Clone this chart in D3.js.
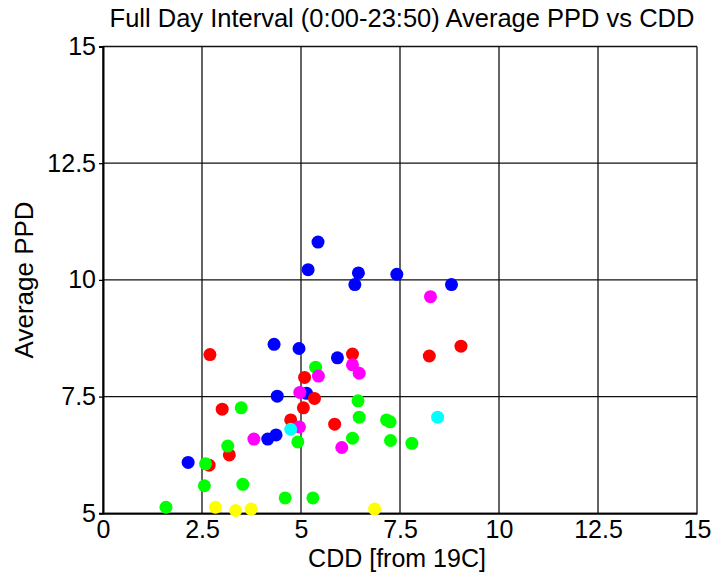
<!DOCTYPE html>
<html><head><meta charset="utf-8">
<script src="https://cdn.jsdelivr.net/npm/d3@7/dist/d3.min.js"></script>
<style>body{margin:0;background:#fff;} svg{display:block;}</style>
</head><body>
<svg id="chart" width="712" height="577"></svg>
<script>
const xTicks = [0, 2.5, 5, 7.5, 10, 12.5, 15];
const yTicks = [5, 7.5, 10, 12.5, 15];
const xTickLabels = ["0", "2.5", "5", "7.5", "10", "12.5", "15"];
const yTickLabels = ["5", "7.5", "10", "12.5", "15"];

const blueX = [5.43, 5.18, 6.45, 6.36, 7.42, 8.80, 4.32, 4.95, 5.92, 4.40, 5.14, 4.37, 4.16, 2.15];
const blueY = [10.81, 10.22, 10.15, 9.90, 10.12, 9.90, 8.62, 8.53, 8.33, 7.51, 7.57, 6.68, 6.59, 6.09];
const redX = [2.70, 6.30, 8.24, 9.04, 5.09, 5.34, 5.06, 3.01, 4.74, 5.85, 3.19, 2.68];
const redY = [8.40, 8.41, 8.37, 8.58, 7.91, 7.46, 7.26, 7.23, 7.00, 6.91, 6.25, 6.03];
const greenX = [5.37, 3.49, 3.15, 2.59, 4.92, 2.56, 3.53, 4.60, 5.30, 1.59, 6.44, 6.47, 7.16, 7.25, 6.30, 7.26, 7.80];
const greenY = [8.13, 7.26, 6.44, 6.06, 6.53, 5.59, 5.62, 5.33, 5.33, 5.13, 7.41, 7.06, 7.00, 6.96, 6.61, 6.56, 6.50];
const magentaX = [8.27, 5.44, 4.97, 4.96, 3.81, 6.03, 6.30, 6.47];
const magentaY = [9.64, 7.94, 7.59, 6.85, 6.59, 6.41, 8.18, 8.00];
const cyanX = [4.74, 8.45];
const cyanY = [6.80, 7.06];
const yellowX = [2.84, 3.35, 3.74, 6.86];
const yellowY = [5.13, 5.06, 5.09, 5.09];

const series = [
  {color: "#0000ff", xs: blueX, ys: blueY},
  {color: "#ff0000", xs: redX, ys: redY},
  {color: "#00ff00", xs: greenX, ys: greenY},
  {color: "#ff00ff", xs: magentaX, ys: magentaY},
  {color: "#00ffff", xs: cyanX, ys: cyanY},
  {color: "#ffff00", xs: yellowX, ys: yellowY}
];

(function () {
const svg = d3.select("#chart");
const pL = 103, pR = 697, pT = 46.5, pB = 513.3;
const x = d3.scaleLinear().domain([0, 15]).range([pL, pR]);
const y = d3.scaleLinear().domain([5, 15]).range([pB, pT]);
const font = "'Liberation Sans', Arial, sans-serif";

// grid
const grid = svg.append("g");
grid.selectAll(".vx").data(xTicks).enter().append("line")
  .attr("x1", d => x(d)).attr("x2", d => x(d))
  .attr("y1", pT).attr("y2", pB)
  .attr("stroke", "#111").attr("stroke-width", 1.3);
grid.selectAll(".hy").data(yTicks).enter().append("line")
  .attr("y1", d => y(d)).attr("y2", d => y(d))
  .attr("x1", pL).attr("x2", pR)
  .attr("stroke", "#111").attr("stroke-width", 1.3);

// axes (labels)
const xAxis = d3.axisBottom(x).tickValues(xTicks).tickSize(0).tickPadding(7)
  .tickFormat((d, i) => xTickLabels[i]);
const gx = svg.append("g").attr("transform", `translate(0,${pB})`).call(xAxis);
gx.select(".domain").attr("stroke", "#000").attr("stroke-width", 2);
gx.selectAll("text").attr("font-family", font).attr("font-size", 25).attr("fill", "#000");

const yAxis = d3.axisLeft(y).tickValues(yTicks).tickSize(4).tickPadding(3)
  .tickFormat((d, i) => yTickLabels[i]);
const gy = svg.append("g").attr("transform", `translate(${pL},0)`).call(yAxis);
gy.select(".domain").attr("stroke", "#000").attr("stroke-width", 2);
gy.selectAll(".tick line").attr("stroke", "#000").attr("stroke-width", 1.3);
gy.selectAll("text").attr("font-family", font).attr("font-size", 25).attr("fill", "#000");

// points
series.forEach(s => {
  svg.append("g").selectAll("circle").data(s.xs.map((v, i) => [v, s.ys[i]]))
    .enter().append("circle")
    .attr("cx", d => x(d[0])).attr("cy", d => y(d[1]))
    .attr("r", 6.5).attr("fill", s.color);
});

// title & labels
svg.append("text").attr("x", 402).attr("y", 27)
  .attr("text-anchor", "middle").attr("font-family", font).attr("font-size", 25.5)
  .text("Full Day Interval (0:00-23:50) Average PPD vs CDD");
svg.append("text").attr("x", 397).attr("y", 567)
  .attr("text-anchor", "middle").attr("font-family", font).attr("font-size", 25)
  .text("CDD [from 19C]");
svg.append("text").attr("transform", `translate(33,${(pT + pB) / 2}) rotate(-90)`)
  .attr("text-anchor", "middle").attr("font-family", font).attr("font-size", 26)
  .text("Average PPD");
})();
</script>
</body></html>
